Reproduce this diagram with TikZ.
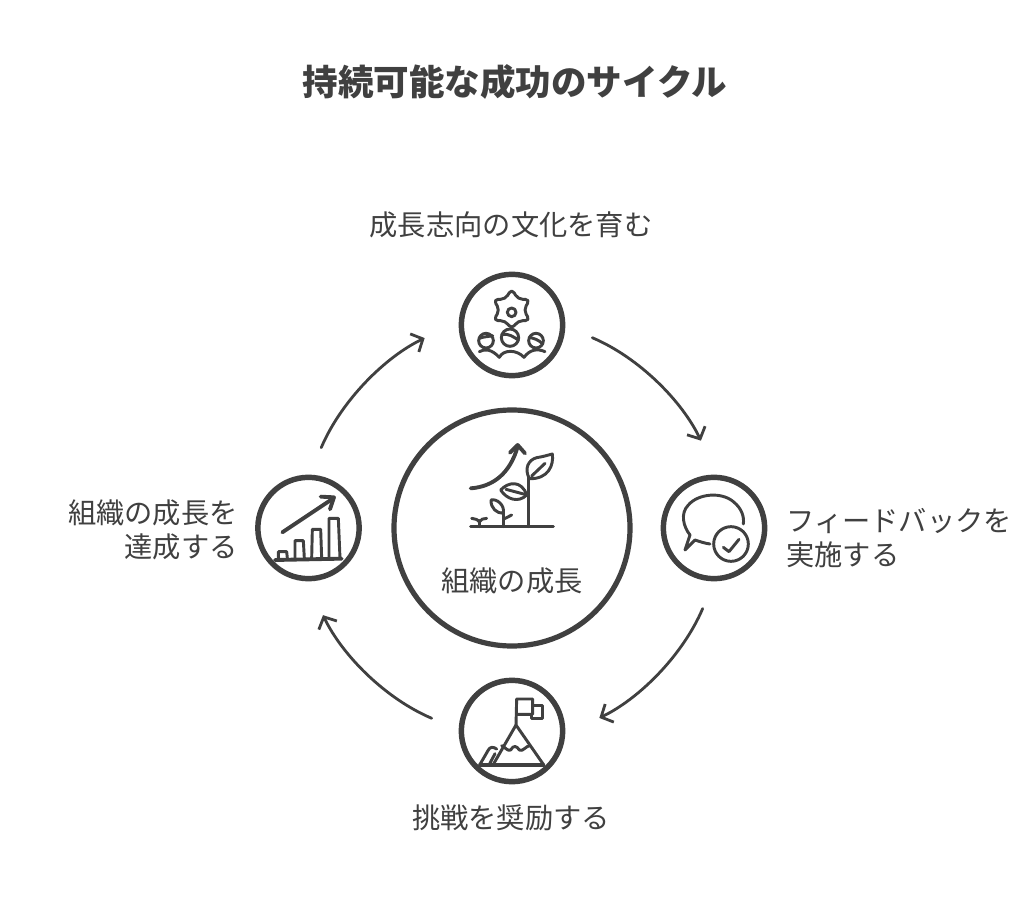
\documentclass[tikz,border=0pt]{standalone}
\usepackage{fontspec}
\usetikzlibrary{arrows.meta}
\setmainfont{Noto Sans CJK JP}
\definecolor{ink}{HTML}{404040}
\tikzset{
  hub/.style={circle,draw=ink,line width=3.9pt,minimum size=177pt,inner sep=0pt,outer sep=0pt},
  stage/.style={circle,draw=ink,line width=4.1pt,minimum size=76pt,inner sep=0pt,outer sep=23pt},
  flow/.style={draw=ink,line width=2.1pt,line cap=round,-{Straight Barb[length=7pt,width=15pt,line width=2.1pt]},shorten >=5.5pt},
  label/.style={text=ink,font=\fontsize{21.2}{26}\selectfont,inner sep=0pt},
  icon/.style={draw=ink,line width=2.2pt,line cap=round,line join=round},
  iconbold/.style={draw=ink,line width=2.9pt,line cap=round,line join=round}
}
\begin{document}
\begin{tikzpicture}[x=0.75pt,y=-0.75pt]
\useasboundingbox (0,0) rectangle (1024,905);
\fill[white] (0,0) rectangle (1024,905);
\node[text=ink,inner sep=0pt,font=\fontsize{26.65}{30}\selectfont\bfseries] (title) at (515,82) {持続可能な成功のサイクル};
\node[hub] (center) at (512,528) {};
\node[stage] (top) at (512,325) {};
\node[stage] (right) at (714,528) {};
\node[stage] (bottom) at (512,731) {};
\node[stage] (left) at (308.5,528) {};
\node[label] (ltop) at (511,225) {成長志向の文化を育む};
\node[label,align=left,anchor=west] (lright) at (786,538) {フィードバックを\\実施する};
\node[label] (lbottom) at (511,818) {挑戦を奨励する};
\node[label,align=right,anchor=east] (lleft) at (238,530) {組織の成長を\\達成する};
\node[label] (lcenter) at (512,581) {組織の成長};
\draw[flow] (top.-9) .. controls +(47,20) and +(-22,-46) .. (right.97.5);
\draw[flow] (right.-98) .. controls +(-20,47) and +(46,-22) .. (bottom.7.5);
\draw[flow] (bottom.171) .. controls +(-47,-20) and +(22,46) .. (left.-82.5);
\draw[flow] (left.81) .. controls +(20,-47) and +(-46,22) .. (top.187.5);
% top icon
\begin{scope}[shift={(450,270)},scale=1/3]
\draw[icon,rounded corners=3.6pt] (185,56) -- (204,88) -- (240,88) -- (221,120) -- (240,152) -- (204,152) -- (185,178) -- (166,152) -- (130,152) -- (149,120) -- (130,88) -- (166,88) -- cycle;
\draw[icon] (185,127) circle (13);
\draw[icon] (180,203) circle (26);
\draw[icon] (156,193) .. controls (175,190) and (190,200) .. (205,210);
\draw[icon] (108,212) circle (22);
\draw[icon] (88,205) .. controls (100,200) and (115,200) .. (128,197);
\draw[icon] (258,212) circle (22);
\draw[icon] (238,202) .. controls (250,205) and (265,208) .. (278,222);
\draw[icon] (88,245) .. controls (105,235) and (125,238) .. (148,262) .. controls (160,238) and (200,238) .. (222,262) .. controls (240,238) and (262,235) .. (285,245);
\end{scope}
% centre icon
\begin{scope}[shift={(450,430)},scale=1/3]
\draw[icon] (62,290) -- (310,290);
\draw[icon] (235,290) -- (235,140);
\draw[icon] (238,146) .. controls (222,115) and (235,90) .. (260,83) .. controls (280,80) and (295,75) .. (307,72) .. controls (312,105) and (295,148) .. (238,146);
\draw[icon] (245,138) -- (285,100);
\draw[icon] (152,180) .. controls (175,155) and (215,150) .. (230,195) .. controls (205,220) and (170,208) .. (152,180);
\draw[icon] (168,178) -- (232,195);
\draw[icon] (160,290) -- (160,250);
\draw[icon] (123,210) .. controls (140,205) and (165,225) .. (160,250) .. controls (140,250) and (122,235) .. (123,210);
\draw[icon] (160,268) -- (185,255);
\draw[icon] (88,290) -- (88,272);
\draw[icon] (65,265) .. controls (75,265) and (85,270) .. (88,276) .. controls (92,268) and (100,265) .. (110,265);
\draw[iconbold] (62,175) .. controls (130,170) and (180,130) .. (203,50);
\draw[iconbold] (180,68) -- (203,45) -- (225,70);
\end{scope}
% left icon
\begin{scope}[shift={(250,470)},scale=1/3]
\draw[iconbold] (75,270) -- (275,266);
\draw[icon] (85,265) -- (85,245) -- (110,245) -- (112,265);
\draw[icon] (135,265) -- (135,212) -- (160,212) -- (163,265);
\draw[icon] (185,265) -- (187,178) -- (212,178) -- (215,265);
\draw[icon] (237,265) -- (237,145) -- (265,145) -- (270,265);
\draw[iconbold] (97,187) -- (250,85);
\draw[iconbold] (212,80) -- (252,82) -- (240,118);
\end{scope}
% right icon
\begin{scope}[shift={(655,470)},scale=1/3]
\draw[icon] (165,222) .. controls (150,220) and (135,215) .. (120,210) -- (90,240) -- (105,195) .. controls (85,170) and (75,130) .. (100,105) .. controls (130,70) and (200,65) .. (235,95) .. controls (260,115) and (268,140) .. (265,162);
\draw[icon] (228,222) circle (52);
\draw[icon] (205,232) -- (222,245) -- (252,208);
\end{scope}
% bottom icon
\begin{scope}[shift={(450,675)},scale=1/3]
\draw[icon] (198,150) -- (200,72) -- (248,72) -- (248,118) -- (200,118);
\draw[icon] (248,92) -- (278,92) -- (278,130) -- (245,130) -- (245,118);
\draw[icon] (130,268) -- (198,150) -- (280,268);
\draw[icon] (155,212) .. controls (165,215) and (172,230) .. (182,225) .. controls (190,210) and (200,212) .. (208,225) .. controls (218,232) and (228,212) .. (240,212);
\draw[icon] (90,268) -- (115,225) .. controls (120,215) and (130,215) .. (140,222);
\draw[icon] (118,268) -- (135,236);
\draw[iconbold] (90,270) -- (280,270);
\end{scope}
\end{tikzpicture}
\end{document}
